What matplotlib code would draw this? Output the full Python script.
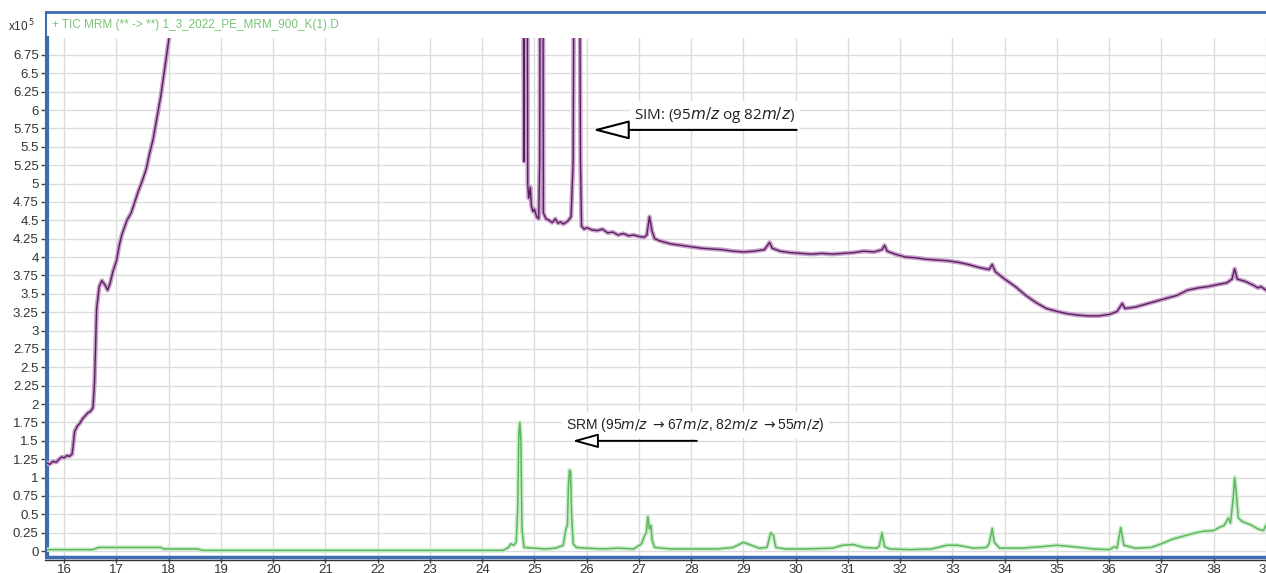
import matplotlib
matplotlib.use("Agg")
import matplotlib.pyplot as plt
import numpy as np
from matplotlib.lines import Line2D
from matplotlib.patches import FancyArrowPatch

# retention time (min) / abundance (x10^5)
sim_x1 = [15.67, 15.72, 15.78, 15.85, 15.9, 15.95, 16.0, 16.05, 16.1, 16.15, 16.18, 16.2,
          16.25, 16.3, 16.35, 16.4, 16.45, 16.5, 16.55, 16.58, 16.62, 16.67, 16.72, 16.78,
          16.83, 16.88, 16.93, 17.0, 17.05, 17.1, 17.15, 17.2, 17.28, 17.35, 17.42, 17.5,
          17.57, 17.63, 17.7, 17.75, 17.8, 17.85, 17.9, 17.95, 18.0, 18.03]
sim_y1 = [1.2, 1.18, 1.22, 1.21, 1.25, 1.28, 1.27, 1.3, 1.29, 1.32, 1.5, 1.63,
          1.7, 1.74, 1.8, 1.84, 1.88, 1.9, 1.95, 2.3, 3.3, 3.6, 3.68, 3.62,
          3.55, 3.65, 3.8, 3.95, 4.15, 4.3, 4.4, 4.5, 4.6, 4.75, 4.9, 5.05,
          5.2, 5.4, 5.6, 5.8, 6.0, 6.2, 6.45, 6.7, 6.95, 7.1]

sim_x2 = [24.78, 24.80, 24.81, 24.86, 24.87, 24.89, 24.92, 24.94, 24.97, 25.0, 25.04, 25.08,
          25.10, 25.11, 25.16, 25.17, 25.22, 25.28, 25.34, 25.4, 25.45, 25.5, 25.55, 25.6,
          25.65, 25.7, 25.74, 25.76, 25.86, 25.88, 25.9, 25.95, 26.0, 26.1, 26.2, 26.3,
          26.4, 26.5, 26.6, 26.7, 26.8, 26.9, 27.0, 27.1, 27.15, 27.2, 27.25, 27.3,
          27.4, 27.5, 27.6, 27.8, 28.0, 28.2, 28.4, 28.6, 28.8, 29.0, 29.2, 29.4,
          29.5, 29.55, 29.7, 29.9, 30.1, 30.3, 30.5, 30.7, 30.9, 31.1, 31.3, 31.5,
          31.65, 31.7, 31.75, 31.9, 32.1, 32.3, 32.5, 32.7, 32.9, 33.1, 33.3, 33.5,
          33.7, 33.76, 33.82, 34.0, 34.2, 34.4, 34.6, 34.8, 35.0, 35.2, 35.4, 35.6,
          35.8, 36.0, 36.15, 36.25, 36.3, 36.5, 36.7, 36.9, 37.1, 37.3, 37.5, 37.7,
          37.9, 38.1, 38.25, 38.35, 38.4, 38.45, 38.6, 38.75, 38.85, 38.9, 39.0]
sim_y2 = [9.0, 5.3, 9.0, 9.0, 5.0, 4.8, 4.95, 4.7, 4.62, 4.65, 4.55, 4.52,
          5.3, 9.0, 9.0, 4.6, 4.52, 4.5, 4.47, 4.52, 4.46, 4.48, 4.45, 4.47,
          4.5, 4.55, 5.3, 9.0, 9.0, 5.3, 4.42, 4.38, 4.4, 4.37, 4.36, 4.38,
          4.33, 4.34, 4.3, 4.32, 4.29, 4.3, 4.28, 4.27, 4.3, 4.55, 4.35, 4.25,
          4.22, 4.2, 4.18, 4.16, 4.14, 4.12, 4.11, 4.1, 4.08, 4.07, 4.08, 4.1,
          4.2, 4.12, 4.08, 4.06, 4.05, 4.04, 4.05, 4.04, 4.05, 4.06, 4.08, 4.07,
          4.1, 4.16, 4.08, 4.04, 4.0, 3.99, 3.97, 3.96, 3.95, 3.93, 3.9, 3.86,
          3.83, 3.9, 3.8, 3.7, 3.6, 3.48, 3.38, 3.3, 3.26, 3.23, 3.21, 3.2,
          3.2, 3.22, 3.26, 3.37, 3.3, 3.32, 3.36, 3.4, 3.44, 3.48, 3.55, 3.58,
          3.6, 3.63, 3.65, 3.7, 3.84, 3.7, 3.67, 3.62, 3.58, 3.6, 3.55]

srm_x = [15.67, 16.55, 16.65, 17.85, 17.9, 18.55, 18.65, 24.4, 24.5, 24.55, 24.6, 24.65,
         24.68, 24.7, 24.72, 24.74, 24.76, 24.8, 25.0, 25.2, 25.4, 25.55, 25.6, 25.63,
         25.65, 25.67, 25.69, 25.71, 25.74, 25.8, 26.0, 26.3, 26.6, 26.9, 27.05, 27.1,
         27.14, 27.17, 27.2, 27.23, 27.25, 27.3, 27.6, 28.0, 28.5, 28.8, 29.0, 29.15,
         29.3, 29.45, 29.52, 29.57, 29.62, 29.8, 30.2, 30.7, 30.9, 31.1, 31.3, 31.55,
         31.6, 31.65, 31.7, 31.8, 32.2, 32.6, 32.9, 33.1, 33.4, 33.65, 33.7, 33.76,
         33.8, 33.9, 34.3, 34.7, 35.0, 35.3, 35.7, 36.0, 36.1, 36.15, 36.22, 36.28,
         36.5, 36.8, 37.0, 37.2, 37.4, 37.6, 37.8, 38.0, 38.1, 38.2, 38.28, 38.32,
         38.37, 38.4, 38.43, 38.47, 38.55, 38.7, 38.85, 38.95, 39.0]
srm_y = [0.02, 0.02, 0.05, 0.05, 0.03, 0.03, 0.01, 0.01, 0.05, 0.1, 0.08, 0.12,
         0.6, 1.6, 1.75, 1.5, 0.3, 0.05, 0.04, 0.03, 0.04, 0.08, 0.3, 0.35,
         0.9, 1.1, 1.08, 0.5, 0.1, 0.05, 0.04, 0.03, 0.04, 0.03, 0.1, 0.2,
         0.25, 0.47, 0.3, 0.35, 0.15, 0.05, 0.03, 0.03, 0.03, 0.05, 0.12, 0.08,
         0.04, 0.05, 0.25, 0.22, 0.05, 0.03, 0.03, 0.04, 0.08, 0.09, 0.05, 0.04,
         0.07, 0.25, 0.06, 0.03, 0.02, 0.03, 0.08, 0.08, 0.04, 0.05, 0.1, 0.31,
         0.12, 0.04, 0.04, 0.06, 0.08, 0.06, 0.03, 0.02, 0.06, 0.04, 0.32, 0.08,
         0.04, 0.05, 0.1, 0.16, 0.2, 0.24, 0.27, 0.28, 0.32, 0.35, 0.45, 0.38,
         0.7, 1.0, 0.8, 0.45, 0.4, 0.36, 0.3, 0.28, 0.35]

x_ticks = list(range(16, 40))
y_ticks = [i * 0.25 for i in range(28)]

title = '+ TIC MRM (** -> **) 1_3_2022_PE_MRM_900_K(1).D'
sim_label = r'SIM: (95$\it{m/z}$ og 82$\it{m/z}$)'
srm_label = r'SRM (95$\it{m/z}$ $\rightarrow$67$\it{m/z}$, 82$\it{m/z}$ $\rightarrow$55$\it{m/z}$)'

W, H = 1266, 573
fig = plt.figure(figsize=(W / 100, H / 100), dpi=100)
fig.patch.set_facecolor('white')

# axes box in pixel terms: left 47, right 1266, top 38, bottom 557
ax = fig.add_axes([47 / W, 1 - 557 / H, (W - 47) / W, (557 - 38) / H])
ax.set_xlim(15.67, 39.0)
ax.set_ylim(-0.08, 6.98)

ax.set_xticks(x_ticks)
ax.set_yticks(y_ticks)
ax.set_yticklabels([f'{v:g}' for v in y_ticks])
ax.grid(True, color='#dcdcdc', linewidth=1.0)
ax.set_axisbelow(True)
ax.tick_params(axis='both', direction='out', length=4, width=1, color='#444444',
               labelsize=9.5, labelcolor='#333333', pad=2)
ax.tick_params(axis='x', pad=1)
for lab in ax.get_xticklabels() + ax.get_yticklabels():
    lab.set_fontfamily('Liberation Sans')

for s in ['top', 'right']:
    ax.spines[s].set_visible(False)
ax.spines['left'].set_color('#3d6db0')
ax.spines['left'].set_linewidth(3)
ax.spines['bottom'].set_color('#3d6db0')
ax.spines['bottom'].set_linewidth(2.5)

# traces with soft halo
purple_dark = '#5a1f5e'
purple_soft = '#c9a0cc'
green_line = '#5cb85c'
green_soft = '#cdeccd'

for xs, ys in [(sim_x1, sim_y1), (sim_x2, sim_y2)]:
    ax.plot(xs, ys, color=purple_soft, linewidth=3.2, zorder=3)
    ax.plot(xs, ys, color=purple_dark, linewidth=1.0, zorder=4)

ax.plot(srm_x, srm_y, color=green_soft, linewidth=3.2, zorder=3)
ax.plot(srm_x, srm_y, color=green_line, linewidth=1.1, zorder=4)

# annotations
ax.text(28.45, 5.93, sim_label, ha='center', va='center', fontsize=11,
        family=['Open Sans', 'DejaVu Sans'], color='#222222', zorder=5,
        bbox=dict(boxstyle='square,pad=0.3', fc='white', ec='none'))
ax.add_patch(FancyArrowPatch((30.07, 5.73), (26.06, 5.73),
                             arrowstyle='-|>,head_length=0.92,head_width=0.24',
                             mutation_scale=25, fc='white', ec='black', lw=1.5, zorder=6))

ax.text(28.08, 1.72, srm_label, ha='center', va='center', fontsize=10,
        family=['Liberation Sans', 'DejaVu Sans'], color='#222222', zorder=5,
        bbox=dict(boxstyle='square,pad=0.3', fc='white', ec='none'))
ax.add_patch(FancyArrowPatch((28.16, 1.5), (25.67, 1.5),
                             arrowstyle='-|>,head_length=0.72,head_width=0.2',
                             mutation_scale=22, fc='white', ec='black', lw=1.4, zorder=6))

# header strip / frame
fig.add_artist(Line2D([47 / W, 1.0], [1 - 12 / H, 1 - 12 / H], color='#3d6db0', linewidth=2))
fig.add_artist(Line2D([46 / W, 46 / W], [1 - 12 / H, 1 - 40 / H], color='#3d6db0', linewidth=1.5))
fig.add_artist(Line2D([45 / W, 1.0], [1 - 559.5 / H, 1 - 559.5 / H], color='#333333', linewidth=1))
fig.text(52 / W, 1 - 25 / H, title, color='#78c478', fontsize=8.5,
         family='Liberation Sans', va='center', ha='left')
fig.text(8 / W, 1 - 26 / H, r'x10$^{\,5}$', color='#333333', fontsize=8.5,
         family='Liberation Sans', va='center', ha='left')

fig.savefig('out.png', dpi=100, facecolor='white')
